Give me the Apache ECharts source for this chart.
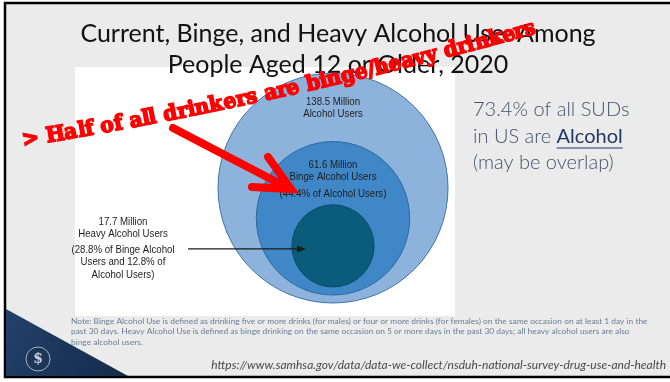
<!DOCTYPE html>
<html>
<head>
<meta charset="utf-8">
<script src="https://cdn.jsdelivr.net/npm/echarts@6/dist/echarts.min.js"></script>
<style>
  html, body { margin: 0; padding: 0; background: #ffffff; }
  #chart { width: 670px; height: 382px; }
</style>
</head>
<body>
<div id="chart"></div>
<script>
// Alcohol use among people aged 12 or older, 2020 (millions of people)
const groups = ['Alcohol Users', 'Binge Alcohol Users', 'Heavy Alcohol Users'];
const usersMillions = [138.5, 61.6, 17.7];
const countLabels = ['138.5 Million', '61.6 Million', '17.7 Million'];
const shareLabels = ['', '(44.4% of Alcohol Users)', '(28.8% of Binge Alcohol\nUsers and 12.8% of\nAlcohol Users)'];
const circleColors = ['#8db3dc', '#3f87c7', '#0b5c7b'];
const circleStrokes = ['#3f74a8', '#2d6aa2', '#0a4c66'];

const titleLines = ['Current, Binge, and Heavy Alcohol Use: Among', 'People Aged 12 or Older, 2020'];
const calloutLines = ['73.4% of all SUDs', 'in US are ', 'Alcohol', '(may be overlap)'];
const annotation = '> Half of all drinkers are binge/heavy drinkers';
const noteLines = [
  'Note: Binge Alcohol Use is defined as drinking five or more drinks (for males) or four or more drinks (for females) on the same occasion on at least 1 day in the',
  'past 30 days. Heavy Alcohol Use is defined as binge drinking on the same occasion on 5 or more days in the past 30 days; all heavy alcohol users are also',
  'binge alcohol users.'
];
const sourceUrl = 'https://www.samhsa.gov/data/data-we-collect/nsduh-national-survey-drug-use-and-health';

const labelFamily = 'Liberation Sans, Arial, sans-serif';
const narrow = 0.84;   // horizontal squeeze for the condensed label face
const vmax = Math.max(...usersMillions);
const levelInset = 8;  // each nested circle sits a little above the bottom of its parent

function label(x, y, text) {
  return {
    type: 'text', x: x, y: y, scaleX: narrow, scaleY: 1,
    style: { text: text, fill: '#1d1d1d', fontSize: 11.5, fontFamily: labelFamily,
             align: 'center', verticalAlign: 'middle', lineHeight: 12.5 }
  };
}

function renderCircle(params, api) {
  const idx = api.value(0);
  const v = api.value(1);
  const base = api.coord([0, 0]);           // bottom centre of the outer circle
  const diameter = api.size([0, 1])[1];     // y-axis spans the outer diameter
  const r = (diameter / 2) * Math.sqrt(v / vmax);  // area proportional to users
  const cx = base[0];
  const cy = base[1] - idx * levelInset - r;
  const top = cy - r;
  const children = [{
    type: 'circle',
    shape: { cx: cx, cy: cy, r: r },
    style: { fill: circleColors[idx], stroke: circleStrokes[idx], lineWidth: 1 }
  }];
  if (idx === 0) {
    children.push(label(cx, top + 35, countLabels[0] + '\n' + groups[0]));
  } else if (idx === 1) {
    children.push(label(cx, top + 29, countLabels[1] + '\n' + groups[1]));
    children.push(label(cx, top + 52, shareLabels[1]));
  } else {
    const lx = cx - 210;
    children.push(label(lx, cy - 18, countLabels[2] + '\n' + groups[2]));
    children.push(label(lx, cy + 16, shareLabels[2]));
    const ay = cy + 3;
    const ax1 = cx - 145, ax2 = cx - 27;
    children.push({ type: 'line', shape: { x1: ax1, y1: ay, x2: ax2 - 2, y2: ay }, style: { stroke: '#1a1a1a', lineWidth: 1.3 } });
    children.push({ type: 'polygon', shape: { points: [[ax2, ay], [ax2 - 9, ay - 3.5], [ax2 - 9, ay + 3.5]] }, style: { fill: '#1a1a1a' } });
  }
  return { type: 'group', children: children };
}

// lay the annotation's characters along a gently curving quadratic path
function curvedText(text, p0, p1, p2, fontSize, family) {
  const ctx = document.createElement('canvas').getContext('2d');
  ctx.font = 'bold ' + fontSize + 'px ' + family;
  const pt = t => [
    (1 - t) * (1 - t) * p0[0] + 2 * (1 - t) * t * p1[0] + t * t * p2[0],
    (1 - t) * (1 - t) * p0[1] + 2 * (1 - t) * t * p1[1] + t * t * p2[1]
  ];
  const N = 400, lens = [0], pts = [pt(0)];
  for (let i = 1; i <= N; i++) {
    const p = pt(i / N);
    lens.push(lens[i - 1] + Math.hypot(p[0] - pts[i - 1][0], p[1] - pts[i - 1][1]));
    pts.push(p);
  }
  const total = lens[N];
  const chars = [...text];
  const widths = chars.map(c => ctx.measureText(c).width);
  const sumW = widths.reduce((a, b) => a + b, 0);
  const k = total / sumW;   // stretch (or squeeze) glyphs to fill the path
  const els = [];
  let s = 0;
  chars.forEach((c, i) => {
    const mid = s + widths[i] * k / 2;
    s += widths[i] * k;
    let j = 0;
    while (j < N && lens[j] < mid) j++;
    const a = pts[Math.max(0, j - 1)], b = pts[Math.min(N, j + 1)];
    const ang = Math.atan2(-(b[1] - a[1]), b[0] - a[0]);
    if (c === ' ') return;
    els.push({
      type: 'text', x: pts[j][0], y: pts[j][1], rotation: ang, scaleX: k, scaleY: 1, z: 50,
      style: { text: c, fontSize: fontSize, fontWeight: 'bold', fontFamily: family,
               fill: '#ff0000', stroke: '#ff0000', lineWidth: 1.6,
               align: 'center', verticalAlign: 'middle' }
    });
  });
  return els;
}

const chart = echarts.init(document.getElementById('chart'), null, { renderer: 'canvas' });

const titleFont = { fontSize: 25, fontFamily: 'Lato, Open Sans, sans-serif', fill: '#111', align: 'center', verticalAlign: 'middle' };
const calloutFont = { fontSize: 20, fontWeight: 300, fontFamily: 'Lato, sans-serif', fill: '#44546a', verticalAlign: 'middle' };

const graphics = [
  // slide frame
  { type: 'rect', shape: { x: 5, y: 3, width: 670, height: 374 }, style: { fill: '#ebebeb', stroke: '#000', lineWidth: 2.5 }, z: 0 },
  // white chart panel
  { type: 'rect', shape: { x: 75, y: 67, width: 380, height: 249 }, style: { fill: '#ffffff' }, z: 1 },
  // title
  { type: 'text', x: 338, y: 34, z: 5, style: Object.assign({ text: titleLines[0] }, titleFont) },
  { type: 'text', x: 338, y: 65, z: 5, style: Object.assign({ text: titleLines[1] }, titleFont) },
  // notes and source
  { type: 'text', x: 71, y: 316, z: 5, style: { text: noteLines.join('\n'), fontSize: 8.4, fontFamily: 'Lato, sans-serif', fill: '#6a7d96', lineHeight: 10.5, verticalAlign: 'top' } },
  { type: 'text', x: 666, y: 365, z: 5, style: { text: sourceUrl, fontSize: 12, fontStyle: 'italic', fontFamily: 'Lato, sans-serif', fill: '#4a4a4a', align: 'right', verticalAlign: 'middle' } },
  // corner triangle and seal
  { type: 'polygon', z: 3, shape: { points: [[6, 309], [6, 376], [128, 376]] },
    style: { fill: new echarts.graphic.LinearGradient(0, 0, 1, 1, [{ offset: 0, color: '#22416a' }, { offset: 1, color: '#142a4a' }]) } },
  { type: 'circle', z: 4, shape: { cx: 38, cy: 359, r: 12 }, style: { fill: '#1d3657', stroke: 'rgba(220,230,240,0.7)', lineWidth: 1 } },
  { type: 'text', z: 4, x: 38, y: 359, style: { text: '$', fontSize: 14, fontWeight: 'bold', fontFamily: 'DejaVu Serif, serif', fill: 'rgba(230,236,244,0.85)', align: 'center', verticalAlign: 'middle' } },
  // right-hand callout
  { type: 'text', x: 473, y: 110, z: 5, style: Object.assign({ text: calloutLines[0] }, calloutFont) },
  { type: 'text', x: 473, y: 137, z: 5, style: Object.assign({ text: calloutLines[1] }, calloutFont) },
  { type: 'text', x: 473, y: 163, z: 5, style: Object.assign({ text: calloutLines[3] }, calloutFont) },
  // red pointer arrow
  { type: 'polyline', z: 40, shape: { points: [[173, 128], [288, 188]] }, style: { stroke: '#ff0000', lineWidth: 8, lineCap: 'round' } },
  { type: 'polyline', z: 40, shape: { points: [[268, 157], [291, 189], [252, 187]] }, style: { stroke: '#ff0000', lineWidth: 8, lineCap: 'round', lineJoin: 'miter', fill: null } }
];

// underlined emphasis word in the callout
(function () {
  const ctx = document.createElement('canvas').getContext('2d');
  ctx.font = '300 20px Lato, sans-serif';
  const x0 = 473 + ctx.measureText(calloutLines[1]).width;
  ctx.font = '20px Lato, sans-serif';
  const w = ctx.measureText(calloutLines[2]).width;
  graphics.push({ type: 'text', x: x0, y: 137, z: 5, style: { text: calloutLines[2], fontSize: 20, fontFamily: 'Lato, sans-serif', fill: '#1f3864', verticalAlign: 'middle' } });
  graphics.push({ type: 'line', z: 5, shape: { x1: x0, y1: 148, x2: x0 + w, y2: 148 }, style: { stroke: '#1f3864', lineWidth: 1.2 } });
})();

graphics.push(...curvedText(annotation, [22, 141], [271, 101], [535, 28], 21, 'DejaVu Serif, serif'));

chart.setOption({
  animation: false,
  backgroundColor: '#ffffff',
  grid: { left: 218, right: 222, top: 73, bottom: 79 },
  xAxis: { type: 'value', min: -1, max: 1, show: false },
  yAxis: { type: 'value', min: 0, max: 1, show: false },
  graphic: graphics,
  series: [{
    type: 'custom',
    renderItem: renderCircle,
    z: 10,
    data: usersMillions.map((v, i) => [i, v]),
    encode: { x: -1, y: -1 },
    silent: true
  }]
});
</script>
</body>
</html>
